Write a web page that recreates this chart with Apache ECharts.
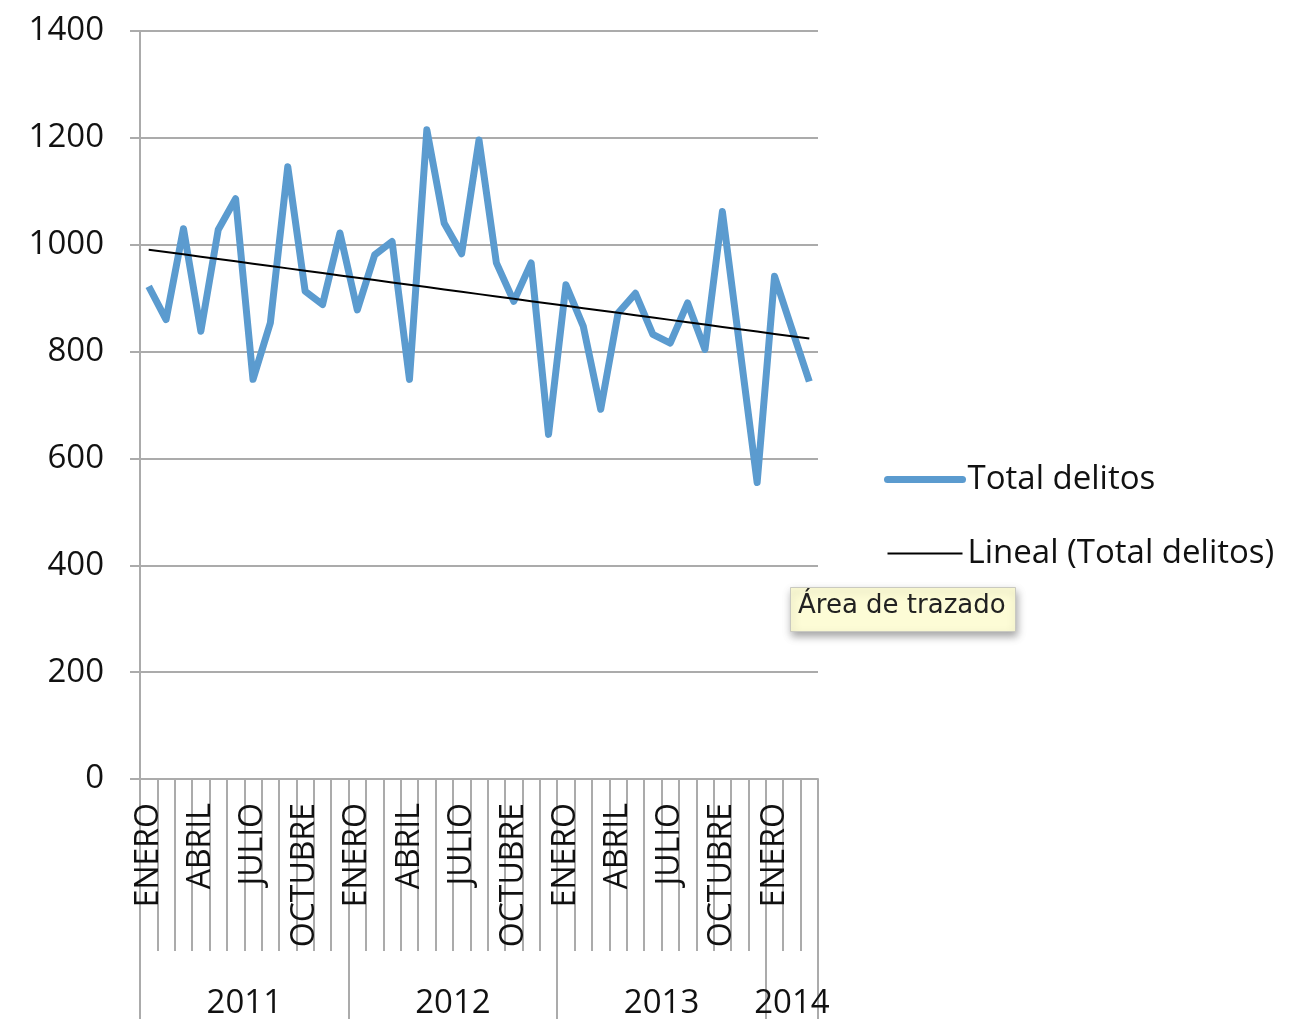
<!DOCTYPE html>
<html>
<head>
<meta charset="utf-8">
<script src="https://cdn.jsdelivr.net/npm/echarts@6/dist/echarts.min.js"></script>
<style>
  html, body { margin: 0; padding: 0; background: #fff; }
  #chart { width: 1310px; height: 1020px; }
</style>
</head>
<body>
<div id="chart"></div>
<script>
// meses ene 2011 - mar 2014
const months = [
  'ENERO','FEBRERO','MARZO','ABRIL','MAYO','JUNIO','JULIO','AGOSTO','SEPTIEMBRE','OCTUBRE','NOVIEMBRE','DICIEMBRE',
  'ENERO','FEBRERO','MARZO','ABRIL','MAYO','JUNIO','JULIO','AGOSTO','SEPTIEMBRE','OCTUBRE','NOVIEMBRE','DICIEMBRE',
  'ENERO','FEBRERO','MARZO','ABRIL','MAYO','JUNIO','JULIO','AGOSTO','SEPTIEMBRE','OCTUBRE','NOVIEMBRE','DICIEMBRE',
  'ENERO','FEBRERO','MARZO'
];
const years = ['2011', '2012', '2013', '2014'];
const monthsPerYear = [12, 12, 12, 3];

const totalDelitos = [
  922, 860, 1030, 838, 1028, 1086, 748, 854, 1146, 913, 888, 1022,
  878, 981, 1006, 748, 1215, 1040, 983, 1196, 966, 894, 966, 645,
  925, 847, 692, 872, 909, 832, 816, 891, 804, 1062, 808, 555,
  941, 842, 744
];

const yTicks = [0, 200, 400, 600, 800, 1000, 1200, 1400];

// tendencia lineal (minimos cuadrados), como la de Excel
function linealTrend(arr) {
  const n = arr.length;
  let sx = 0, sy = 0, sxy = 0, sxx = 0;
  arr.forEach((y, i) => { sx += i; sy += y; sxy += i * y; sxx += i * i; });
  const b = (n * sxy - sx * sy) / (n * sxx - sx * sx);
  const a = (sy - b * sx) / n;
  return arr.map((y, i) => +(a + b * i).toFixed(2));
}

// limites y centros de cada año sobre el eje de meses
const yearBounds = [0];
const yearCenters = [];
monthsPerYear.forEach((c, i) => {
  yearCenters.push(yearBounds[i] + c / 2);
  yearBounds.push(yearBounds[i] + c);
});

const font = "'Open Sans', 'Noto Sans', sans-serif";
const grey = '#ababab';
const blue = '#5b9bcf';

const chart = echarts.init(document.getElementById('chart'));
chart.setOption({
  backgroundColor: '#fff',
  animation: false,
  textStyle: { fontFamily: font },
  grid: { left: 140, right: 492, top: 31, bottom: 240, containLabel: false },
  legend: {
    orient: 'vertical',
    left: 884,
    top: 463,
    padding: 0,
    itemWidth: 75,
    itemHeight: 14,
    itemGap: 41,
    itemStyle: { opacity: 0 },
    textStyle: { fontSize: 33, color: '#111', fontFamily: font },
    data: [
      { name: 'Total delitos', lineStyle: { width: 7, color: blue, cap: 'round' } },
      { name: 'Lineal (Total delitos)', lineStyle: { width: 2, color: '#000' } }
    ]
  },
  xAxis: [
    {
      type: 'category',
      data: months,
      boundaryGap: true,
      position: 'bottom',
      axisLine: { show: true, lineStyle: { color: grey, width: 2 } },
      axisTick: { show: true, interval: 0, length: 172, lineStyle: { color: grey, width: 2 } },
      axisLabel: {
        interval: 2,
        rotate: 90,
        margin: 24,
        fontSize: 32,
        color: '#111',
        fontFamily: font,
        padding: [8, 0, 0, 0]
      },
      splitLine: { show: false }
    },
    {
      type: 'value',
      min: 0,
      max: yearBounds[yearBounds.length - 1],
      position: 'bottom',
      axisLine: { show: false },
      axisTick: { show: true, customValues: yearBounds, length: 240, lineStyle: { color: grey, width: 2 } },
      axisLabel: {
        customValues: yearCenters,
        margin: 208,
        fontSize: 33,
        color: '#111',
        fontFamily: font,
        formatter: (v) => years[yearCenters.indexOf(v)] || ''
      },
      splitLine: { show: false }
    }
  ],
  yAxis: {
    type: 'value',
    min: 0,
    max: 1400,
    interval: 200,
    axisLine: { show: true, lineStyle: { color: grey, width: 2 } },
    axisTick: { show: true, length: 10, lineStyle: { color: grey, width: 2 } },
    axisLabel: {
      margin: 36,
      fontSize: 33,
      color: '#111',
      fontFamily: font,
      formatter: (v) => yTicks.indexOf(v) >= 0 ? String(v) : ''
    },
    splitLine: { show: true, lineStyle: { color: grey, width: 2 } }
  },
  series: [
    {
      name: 'Total delitos',
      type: 'line',
      xAxisIndex: 0,
      data: totalDelitos,
      symbol: 'none',
      color: blue,
      lineStyle: { color: blue, width: 7, join: 'round' },
      z: 3
    },
    {
      name: 'Lineal (Total delitos)',
      type: 'line',
      xAxisIndex: 0,
      data: linealTrend(totalDelitos),
      symbol: 'none',
      color: '#000',
      lineStyle: { color: '#000', width: 2 },
      z: 4
    }
  ],
  graphic: [
    {
      type: 'rect',
      left: 790,
      top: 587,
      shape: { width: 225, height: 44 },
      style: {
        fill: '#fdfcd6',
        stroke: '#c9c9c0',
        lineWidth: 1,
        shadowBlur: 8,
        shadowOffsetX: 1,
        shadowOffsetY: 4,
        shadowColor: 'rgba(0,0,0,0.35)'
      },
      z: 10
    },
    {
      type: 'text',
      left: 798,
      top: 593,
      style: {
        text: 'Área de trazado',
        fontSize: 26,
        fontFamily: "'DejaVu Sans', sans-serif",
        fill: '#222'
      },
      z: 11
    }
  ]
});
</script>
</body>
</html>
